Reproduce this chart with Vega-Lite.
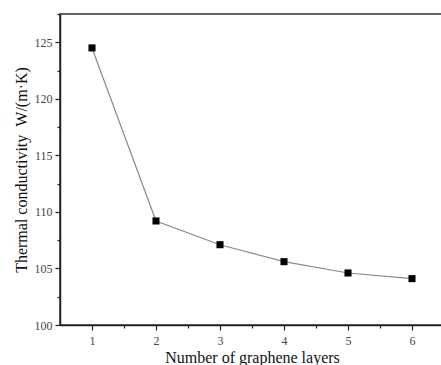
{
  "$schema": "https://vega.github.io/schema/vega-lite/v6.json",
  "width": 384,
  "height": 311,
  "autosize": {"type": "none"},
  "padding": {"left": 60, "top": 14, "right": 0, "bottom": 40},
  "background": "white",
  "config": {
    "view": {"stroke": "#333", "strokeWidth": 1.5},
    "font": "Liberation Serif"
  },
  "data": {
    "values": [
      {"layers": 1, "k": 124.5},
      {"layers": 2, "k": 109.2},
      {"layers": 3, "k": 107.1},
      {"layers": 4, "k": 105.6},
      {"layers": 5, "k": 104.6},
      {"layers": 6, "k": 104.1}
    ]
  },
  "encoding": {
    "x": {"field": "layers", "type": "quantitative", "scale": {"domain": [0.5, 6.5], "nice": false, "zero": false}},
    "y": {"field": "k", "type": "quantitative", "scale": {"domain": [100, 127.5], "nice": false, "zero": false}}
  },
  "layer": [
    {
      "mark": {"type": "line", "color": "#8a8a8a", "strokeWidth": 1.2},
      "encoding": {
        "x": {"field": "layers", "type": "quantitative", "axis": {
          "orient": "bottom", "values": [1.5, 2.5, 3.5, 4.5, 5.5, 6.5], "labels": false, "tickSize": 3, "domain": false, "grid": false, "title": null, "tickColor": "#222", "tickWidth": 1.2}},
        "y": {"field": "k", "type": "quantitative", "axis": {
          "orient": "left", "values": [102.5, 107.5, 112.5, 117.5, 122.5, 127.5], "labels": false, "tickSize": 3, "domain": false, "grid": false, "title": null, "tickColor": "#222", "tickWidth": 1.2}}
      }
    },
    {
      "mark": {"type": "point", "shape": "square", "filled": true, "color": "black", "size": 50, "opacity": 1},
      "encoding": {
        "x": {"field": "layers", "type": "quantitative", "axis": {
          "orient": "bottom", "values": [1, 2, 3, 4, 5, 6], "tickSize": 5, "grid": false, "domainColor": "#222", "domainWidth": 1.5, "tickColor": "#222", "tickWidth": 1.2,
          "labelFont": "Liberation Serif", "labelFontSize": 12, "labelColor": "#444", "labelPadding": 5,
          "title": "Number of graphene layers", "titleFont": "Liberation Serif", "titleFontSize": 16, "titleFontWeight": "normal", "titleColor": "#111", "titlePadding": 3}},
        "y": {"field": "k", "type": "quantitative", "axis": {
          "orient": "left", "values": [100, 105, 110, 115, 120, 125], "tickSize": 5, "grid": false, "domainColor": "#222", "domainWidth": 1.5, "tickColor": "#222", "tickWidth": 1.2,
          "labelFont": "Liberation Serif", "labelFontSize": 12, "labelColor": "#444", "labelPadding": 3,
          "title": "Thermal conductivity\u00a0\u00a0W/(m·K)", "titleFont": "Liberation Serif", "titleFontSize": 16, "titleFontWeight": "normal", "titleColor": "#111", "titlePadding": 5}}
      }
    }
  ],
  "resolve": {"axis": {"x": "independent", "y": "independent"}}
}
